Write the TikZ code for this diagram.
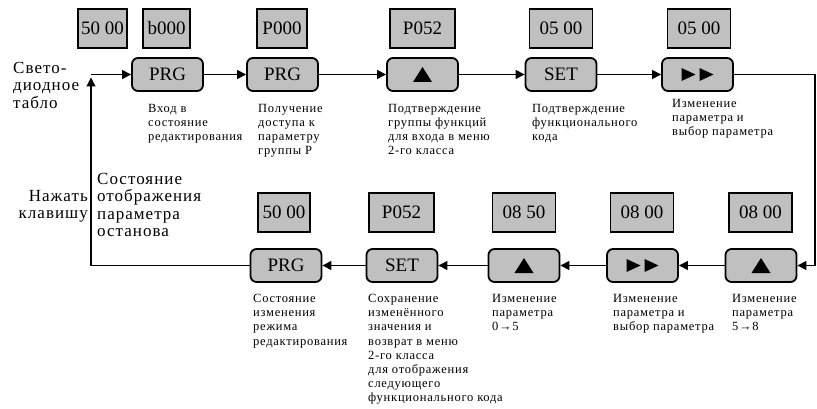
\documentclass[tikz,border=0pt]{standalone}
\usepackage{fontspec}
\setmainfont{Liberation Serif}
\newfontfamily\tnr{Liberation Serif}
\newfontfamily\tnrwide{Liberation Serif}[LetterSpace=6]
\usetikzlibrary{arrows.meta}
\definecolor{silver}{RGB}{192,192,192}
\newcommand{\uptri}{\tikz[sharp corners]\fill[black] (0pt,0pt) -- (19pt,0pt) -- (9.5pt,15pt) -- cycle;}
\newcommand{\fwdtri}{\tikz[sharp corners]{\fill[black] (0pt,0pt) -- (14pt,6.5pt) -- (0pt,13pt) -- cycle;
  \fill[black] (18pt,0pt) -- (32pt,6.5pt) -- (18pt,13pt) -- cycle;}}

\begin{document}
\begin{tikzpicture}[x=1pt, y=-1pt,
  disp/.style={draw, line width=1.3pt, fill=silver, minimum width=63pt, minimum height=39pt, inner sep=0pt, font=\tnr\fontsize{19}{19}\selectfont},
  key/.style={draw, line width=1.8pt, rounded corners=6pt, fill=silver, minimum width=71pt, minimum height=33pt, inner sep=0pt, font=\tnr\fontsize{19}{19}\selectfont},
  note/.style={anchor=north west, align=left, inner sep=0pt, font=\tnrwide\fontsize{12.5}{14.2}\selectfont},
  side/.style={inner sep=0pt, font=\tnrwide\fontsize{17}{17.5}\selectfont},
  flow/.style={-{Triangle[length=9pt,width=9pt]}, line width=1.1pt}
]
\useasboundingbox (0,0) rectangle (817,409);

% top row
\node[disp, minimum width=49pt] (dA0) at (102.5,28.5) {50 00};
\node[disp, minimum width=47pt] (dA1) at (166.5,28.5) {b000};
\node[disp, minimum width=50pt] (dA2) at (282,28.5) {P000};
\node[disp, minimum width=65pt] (dA3) at (422.5,28.5) {P052};
\node[disp] (dA4) at (561,28.5) {05 00};
\node[disp] (dA5) at (699,28.5) {05 00};

\node[key] (prgA) at (167.5,74.5) {PRG};
\node[key] (prgB) at (282.5,74.5) {PRG};
\node[key] (upA) at (422.5,74.5) {\uptri};
\node[key] (setA) at (561,74.5) {SET};
\node[key] (fwdA) at (697.5,74.5) {\fwdtri};

\node[note] (nA1) at (148,104) {Вход в\\состояние\\редактирования};
\node[note] (nA2) at (258,104) {Получение\\доступа к\\параметру\\группы P};
\node[note] (nA3) at (388,104) {Подтверждение\\группы функций\\для входа в меню\\2-го класса};
\node[note] (nA4) at (532,104) {Подтверждение\\функционального\\кода};
\node[note] (nA5) at (672,99) {Изменение\\параметра и\\выбор параметра};

% bottom row
\node[disp, minimum width=52pt] (dB1) at (284,212.5) {50 00};
\node[disp, minimum width=65pt] (dB2) at (401.5,212.5) {P052};
\node[disp] (dB3) at (524,212.5) {08 50};
\node[disp] (dB4) at (642,212.5) {08 00};
\node[disp] (dB5) at (760.5,212.5) {08 00};

\node[key] (prgC) at (286,265.5) {PRG};
\node[key] (setB) at (402,265.5) {SET};
\node[key] (upC) at (524,265.5) {\uptri};
\node[key] (fwdB) at (642.5,265.5) {\fwdtri};
\node[key] (upB) at (761,265.5) {\uptri};

\node[note] (nB1) at (253,294) {Состояние\\изменения\\режима\\редактирования};
\node[note] (nB2) at (368,294) {Сохранение\\изменённого\\значения и\\возврат в меню\\2-го класса\\для отображения\\следующего\\функционального кода};
\node[note] (nB3) at (492,294) {Изменение\\параметра\\0→5};
\node[note] (nB4) at (613,294) {Изменение\\параметра и\\выбор параметра};
\node[note] (nB5) at (732,294) {Изменение\\параметра\\5→8};

% side labels
\node[side, anchor=north west, align=left] (led) at (13,62) {Свето-\\диодное\\табло};
\node[side, anchor=north east, align=right] (press) at (88,190) {Нажать\\клавишу};
\node[side, anchor=north west, align=left] (stopst) at (97,173) {Состояние\\отображения\\параметра\\останова};

\coordinate (cornerL1) at (91,74.5);
\coordinate (cornerL2) at (91,265.5);
\coordinate (cornerR1) at (815,74.5);
\coordinate (cornerR2) at (815,265.5);

\draw[flow] (cornerL1) -- (prgA);
\draw[flow] (prgA) -- (prgB);
\draw[flow] (prgB) -- (upA);
\draw[flow] (upA) -- (setA);
\draw[flow] (setA) -- (fwdA);
\draw[flow] (fwdA) -- (cornerR1) -- (cornerR2) -- (upB);
\draw[flow] (upB) -- (fwdB);
\draw[flow] (fwdB) -- (upC);
\draw[flow] (upC) -- (setB);
\draw[flow] (setB) -- (prgC);
\draw[flow, shorten >=3pt] (prgC) -- (cornerL2) -- (cornerL1);
\end{tikzpicture}
\end{document}
